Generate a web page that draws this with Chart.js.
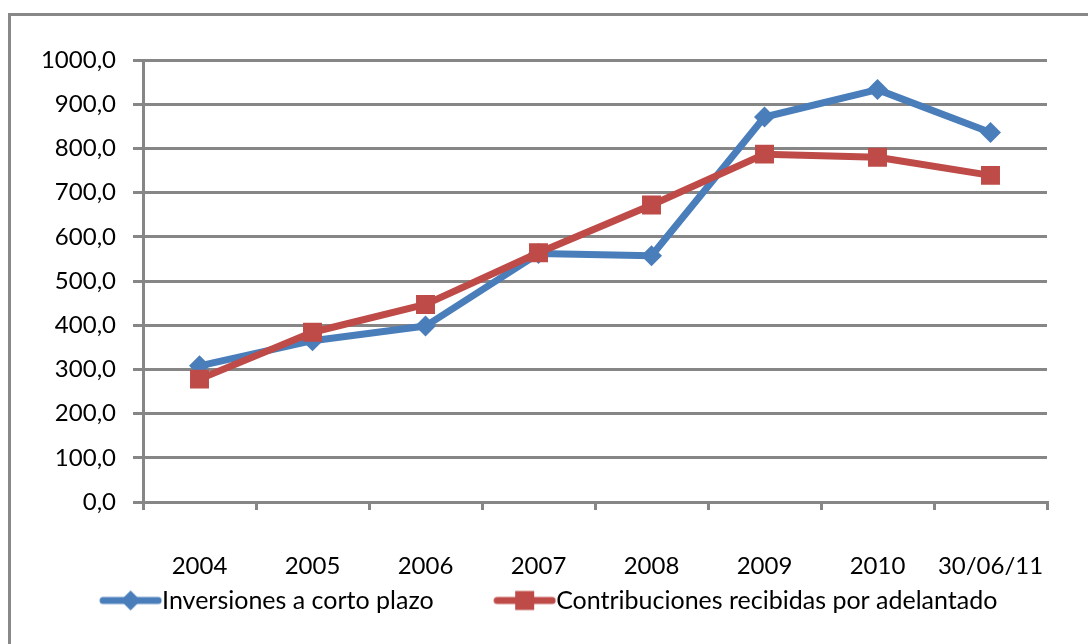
<!DOCTYPE html>
<html>
<head>
<meta charset="utf-8">
<script src="https://cdn.jsdelivr.net/npm/chart.js@4"></script>
<style>
  html, body { margin: 0; padding: 0; background: #fff; overflow: hidden; }
  #wrap { position: relative; width: 1088px; height: 644px; }
  #frame { position: absolute; left: 8px; top: 13px; width: 1200px; height: 800px; border: 3px solid #888; }
  #chart { position: absolute; left: 0; top: 0; }
</style>
</head>
<body>
<div id="wrap">
  <div id="frame"></div>
  <canvas id="chart" width="1088" height="644"></canvas>
</div>
<script>
// Data
const categories = ["2004", "2005", "2006", "2007", "2008", "2009", "2010", "30/06/11"];
const inversiones = [308, 365, 398, 562, 557, 871, 933, 836];
const contribuciones = [278, 384, 447, 564, 672, 787, 780, 739];
const seriesNames = ["Inversiones a corto plazo", "Contribuciones recibidas por adelantado"];

const BLUE = "#4A7EBB";
const RED = "#BE4B48";
const GRID = "#868686";
const FONT = "Lato, 'Open Sans', sans-serif";

// Legend icon: line with marker in the middle
function legendIcon(color, shape) {
  const c = document.createElement("canvas");
  c.width = 125;
  c.height = 30;
  const g = c.getContext("2d");
  g.strokeStyle = color;
  g.fillStyle = color;
  g.lineWidth = 7;
  g.lineCap = "round";
  g.beginPath();
  g.moveTo(66, 15);
  g.lineTo(121, 15);
  g.stroke();
  g.beginPath();
  if (shape === "diamond") {
    g.moveTo(93.5, 5); g.lineTo(103.5, 15); g.lineTo(93.5, 25); g.lineTo(83.5, 15);
  } else {
    g.rect(84, 5.5, 19, 19);
  }
  g.closePath();
  g.fill();
  return c;
}
const icons = [legendIcon(BLUE, "diamond"), legendIcon(RED, "square")];

const fmt = v => v.toFixed(1).replace(".", ",");

new Chart(document.getElementById("chart"), {
  type: "line",
  data: {
    labels: categories,
    datasets: [
      {
        label: seriesNames[0],
        data: inversiones,
        borderColor: BLUE,
        backgroundColor: BLUE,
        borderWidth: 7,
        borderJoinStyle: "round",
        borderCapStyle: "round",
        pointStyle: "rectRot",
        pointRadius: 10.5,
        pointBorderWidth: 0,
        order: 1
      },
      {
        label: seriesNames[1],
        data: contribuciones,
        borderColor: RED,
        backgroundColor: RED,
        borderWidth: 7,
        borderJoinStyle: "round",
        borderCapStyle: "round",
        pointStyle: "rect",
        pointRadius: 13.4,
        pointBorderWidth: 0,
        order: 0
      }
    ]
  },
  options: {
    responsive: false,
    animation: false,
    layout: { padding: { top: 60, right: 41, bottom: 21, left: 0 } },
    plugins: {
      tooltip: { enabled: false },
      legend: {
        position: "bottom",
        labels: {
          usePointStyle: true,
          pointStyleWidth: 100,
          padding: 10,
          color: "#000",
          font: { family: FONT, size: 25 },
          generateLabels: chart => chart.data.datasets.map((ds, i) => ({
            text: ds.label,
            pointStyle: icons[i],
            fillStyle: ds.borderColor,
            strokeStyle: ds.borderColor,
            lineWidth: 0,
            hidden: false,
            datasetIndex: i
          }))
        }
      }
    },
    scales: {
      x: {
        offset: true,
        afterFit: s => { s.height = 76; },
        border: { color: GRID, width: 3 },
        grid: { offset: true, drawOnChartArea: false, drawTicks: true, tickLength: 8, color: GRID, lineWidth: 3 },
        ticks: { color: "#000", padding: 42, font: { family: FONT, size: 24 } }
      },
      y: {
        min: 0,
        max: 1000,
        afterFit: s => { s.width = 143; },
        border: { color: GRID, width: 3 },
        grid: { color: GRID, lineWidth: 3, tickLength: 10 },
        ticks: {
          stepSize: 100,
          color: "#000",
          padding: 17,
          font: { family: FONT, size: 24 },
          callback: v => fmt(v)
        }
      }
    }
  }
});
</script>
</body>
</html>
